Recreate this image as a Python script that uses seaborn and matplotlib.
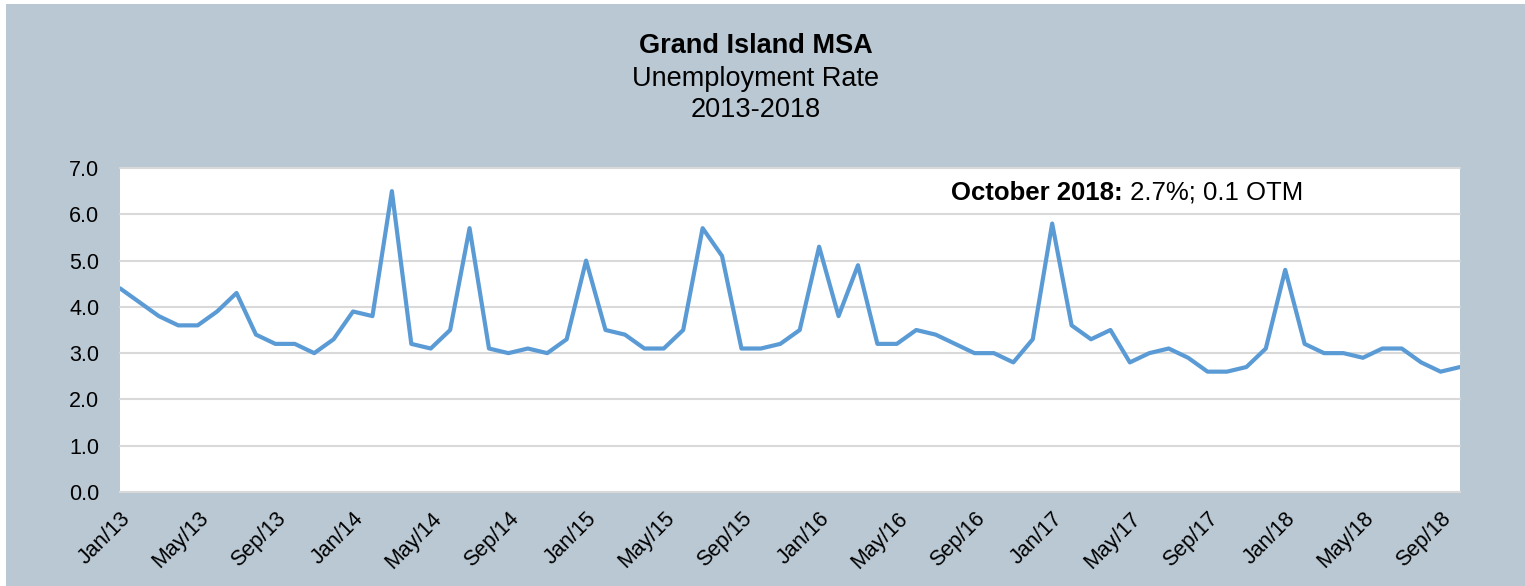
import numpy as np
import pandas as pd
import matplotlib
matplotlib.use("Agg")
import matplotlib.pyplot as plt
import seaborn as sns
from matplotlib.patches import Rectangle

# data: monthly unemployment rate, Jan 2013 - Oct 2018
months = pd.date_range("2013-01-01", "2018-10-01", freq="MS")
rate = [4.4, 4.1, 3.8, 3.6, 3.6, 3.9, 4.3, 3.4, 3.2, 3.2, 3.0, 3.3,
        3.9, 3.8, 6.5, 3.2, 3.1, 3.5, 5.7, 3.1, 3.0, 3.1, 3.0, 3.3,
        5.0, 3.5, 3.4, 3.1, 3.1, 3.5, 5.7, 5.1, 3.1, 3.1, 3.2, 3.5,
        5.3, 3.8, 4.9, 3.2, 3.2, 3.5, 3.4, 3.2, 3.0, 3.0, 2.8, 3.3,
        5.8, 3.6, 3.3, 3.5, 2.8, 3.0, 3.1, 2.9, 2.6, 2.6, 2.7, 3.1,
        4.8, 3.2, 3.0, 3.0, 2.9, 3.1, 3.1, 2.8, 2.6, 2.7]
tick_labels = ["Jan/13", "May/13", "Sep/13", "Jan/14", "May/14", "Sep/14",
               "Jan/15", "May/15", "Sep/15", "Jan/16", "May/16", "Sep/16",
               "Jan/17", "May/17", "Sep/17", "Jan/18", "May/18", "Sep/18"]
y_ticks = [0, 1, 2, 3, 4, 5, 6, 7]

df = pd.DataFrame({"idx": np.arange(len(months)), "rate": rate})

sns.set_theme(style="white")
plt.rcParams['font.family'] = ['Liberation Sans', 'DejaVu Sans']
plt.rcParams['text.color'] = 'black'

bg = "#B9C8D3"
grid_c = "#D9D9D9"

fig = plt.figure(figsize=(15.25, 5.86), dpi=100, facecolor="white")
fig.patches.append(Rectangle((6 / 1525, 0), 1 - 6 / 1525, 1 - 4 / 586,
                             transform=fig.transFigure, facecolor=bg,
                             edgecolor="none", zorder=-10))

ax = fig.add_axes([120 / 1525, 1 - 492 / 586, 1340 / 1525, 324 / 586])
ax.set_facecolor("white")

sns.lineplot(data=df, x="idx", y="rate", ax=ax, color="#5B9BD5",
             linewidth=3, legend=False)

ax.set_xlim(0, len(months) - 1)
ax.set_ylim(0, 7)
ax.set_yticks(y_ticks)
ax.set_yticklabels(["%.1f" % v for v in y_ticks], fontsize=15.5)
ax.set_xticks(np.arange(0, len(months), 4))
ax.set_xticklabels(tick_labels, rotation=45, ha="right",
                   rotation_mode="anchor", fontsize=15.5)
ax.set_xlabel("")
ax.set_ylabel("")

ax.grid(axis="y", color=grid_c, linewidth=1.5, clip_on=False)
ax.set_axisbelow(True)
for s in ["top", "right", "left"]:
    ax.spines[s].set_visible(False)
ax.spines["bottom"].set_color(grid_c)
ax.spines["bottom"].set_linewidth(1.5)
ax.tick_params(axis="y", length=0, pad=15, labelcolor="black")
ax.tick_params(axis="x", direction="inout", length=9, width=1.2,
               color=grid_c, pad=7, labelcolor="black")

# titles
fig.text(756 / 1525, 0.909, "Grand Island MSA", ha="center", va="baseline",
         fontsize=19.5, fontweight="bold", color="black")
fig.text(756 / 1525, 0.854, "Unemployment Rate", ha="center", va="baseline",
         fontsize=19.5, color="black")
fig.text(756 / 1525, 0.801, "2013-2018", ha="center", va="baseline",
         fontsize=19.5, color="black")

# annotation: bold part then regular part
t1 = fig.text(951 / 1525, 0.659, "October 2018:", ha="left", va="baseline",
              fontsize=18.5, fontweight="bold", color="black")
fig.canvas.draw()
bb = t1.get_window_extent(renderer=fig.canvas.get_renderer())
x_next = fig.transFigure.inverted().transform((bb.x1, bb.y0))[0]
fig.text(x_next, 0.659, " 2.7%; 0.1 OTM", ha="left", va="baseline",
         fontsize=18.5, color="black")

plt.savefig("out.png", dpi=100, facecolor=fig.get_facecolor())
